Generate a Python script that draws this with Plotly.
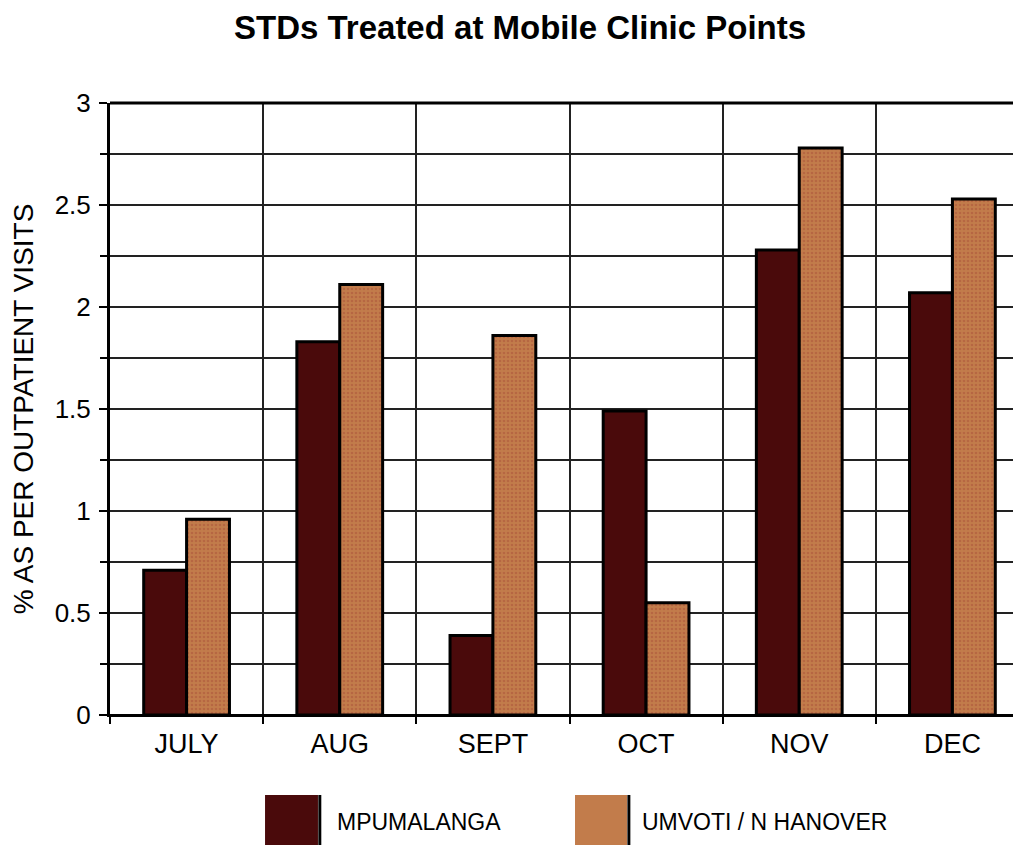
import plotly.graph_objects as go

months = ["JULY", "AUG", "SEPT", "OCT", "NOV", "DEC"]
mpumalanga = [0.71, 1.83, 0.39, 1.49, 2.28, 2.07]
umvoti = [0.96, 2.11, 1.86, 0.55, 2.78, 2.53]
series_names = ["MPUMALANGA", "UMVOTI / N HANOVER"]
y_ticks = [0, 0.5, 1, 1.5, 2, 2.5, 3]
y_tick_labels = ["0", "0.5", "1", "1.5", "2", "2.5", "3"]

FONT = "Liberation Sans, Arial, sans-serif"
M_COLOR = "#4a0a0b"
U_COLOR = "#c27c4b"

fig = go.Figure()
fig.add_trace(go.Bar(
    x=months, y=mpumalanga, name=series_names[0],
    marker=dict(color=M_COLOR, line=dict(color="black", width=3)),
))
fig.add_trace(go.Bar(
    x=months, y=umvoti, name=series_names[1],
    marker=dict(color=U_COLOR, line=dict(color="black", width=3),
                pattern=dict(shape=".", fgcolor="#a9523a", bgcolor=U_COLOR,
                             size=4, solidity=0.35)),
))

fig.update_layout(
    width=1021, height=846,
    margin=dict(l=102, r=0, t=95, b=139, autoexpand=False),
    paper_bgcolor="white", plot_bgcolor="white",
    barmode="group", bargap=0.44, bargroupgap=0,
    showlegend=False,
    font=dict(family=FONT, color="black", size=27),
    title=dict(text="<b>STDs Treated at Mobile Clinic Points</b>",
               x=0.5015, xanchor="center", y=0.977, yanchor="middle",
               font=dict(family=FONT, size=33, color="black")),
)
fig.update_xaxes(
    type="category", range=[-0.5, 5.5], tickson="boundaries",
    showgrid=True, gridcolor="#222", gridwidth=1.5,
    showline=True, linecolor="black", linewidth=2,
    ticks="outside", ticklen=7, tickcolor="black", tickwidth=1.5,
    tickfont=dict(size=27, family=FONT), automargin=False, ticklabelstandoff=4,
)
fig.update_yaxes(
    range=[0, 3], tickvals=y_ticks, ticktext=y_tick_labels,
    showgrid=True, gridcolor="#222", gridwidth=1.5,
    minor=dict(dtick=0.25, showgrid=True, gridcolor="#222", gridwidth=1.5,
               ticks="outside", ticklen=7, tickcolor="black"),
    showline=True, linecolor="black", linewidth=3, mirror=False,
    ticks="outside", ticklen=8, tickcolor="black", tickwidth=1.5,
    tickfont=dict(size=26, family=FONT), automargin=False, ticklabelstandoff=3,
    title=dict(text="% AS PER OUTPATIENT VISITS", font=dict(size=28, family=FONT), standoff=40),
    zeroline=True, zerolinecolor="black", zerolinewidth=2,
)
# top border line
fig.add_shape(type="line", xref="paper", yref="paper", x0=0, x1=1, y0=1, y1=1,
              line=dict(color="black", width=3))

# legend drawn with shapes
swatches = [(0.1687, 0.2263, M_COLOR, 0.2448, series_names[0]),
            (0.5060, 0.5626, U_COLOR, 0.5767, series_names[1])]
for x0, x1, col, tx, label in swatches:
    fig.add_shape(type="rect", xref="paper", yref="paper", x0=x0, x1=x1,
                  y0=-0.2124, y1=-0.1307, fillcolor=col, line=dict(width=0))
    fig.add_shape(type="line", xref="paper", yref="paper", x0=x1 + 0.002, x1=x1 + 0.002,
                  y0=-0.2124, y1=-0.1307, line=dict(color="black", width=3))
    fig.add_annotation(xref="paper", yref="paper", x=tx, y=-0.1748, text=label,
                       showarrow=False, xanchor="left", yanchor="middle",
                       font=dict(size=23, family=FONT, color="black"))

fig.write_html("out.html")
